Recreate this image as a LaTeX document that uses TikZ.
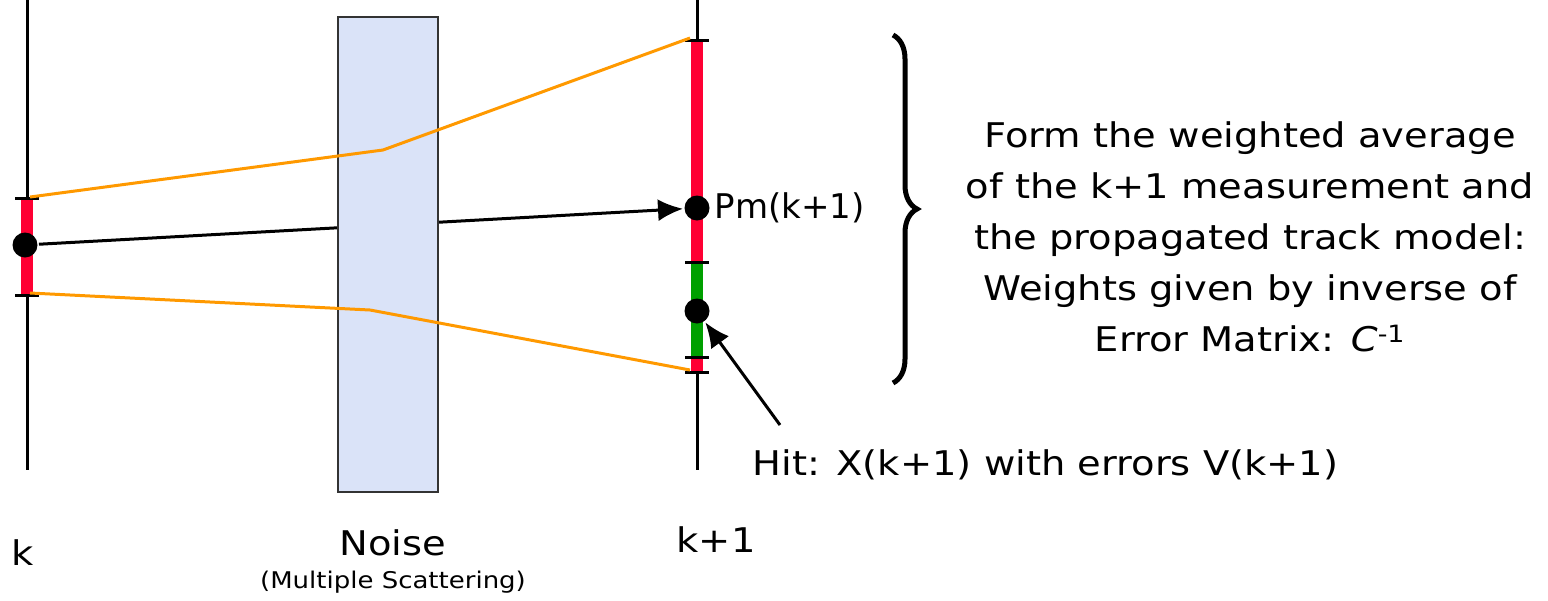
\documentclass[tikz,border=0pt]{standalone}
\usepackage{fontspec}
\setmainfont{DejaVu Sans}[FakeStretch=1.13]
\newfontfamily\pmfont{DejaVu Sans}
\usetikzlibrary{arrows.meta,decorations.pathreplacing}
\definecolor{barred}{HTML}{FF0033}
\definecolor{hitgreen}{HTML}{00A000}
\definecolor{trackorange}{HTML}{FF9900}
\definecolor{noisefill}{HTML}{DAE3F8}
\tikzset{
  dot/.style={circle,fill=black,inner sep=0pt,minimum size=25pt},
  lab/.style={font=\fontsize{34}{51}\selectfont},
  small/.style={font=\fontsize{23}{28}\selectfont},
}
\begin{document}
\begin{tikzpicture}[x=1pt,y=-1pt,>={Latex[length=25pt,width=22pt]},line width=3pt]
  \useasboundingbox (0,0) rectangle (1548,600);
  % detector planes
  \draw (27,0) -- (27,470);
  \draw (697,0) -- (697,470);
  % error bars
  \draw[barred,line width=12pt] (27,198) -- (27,295);
  \draw[barred,line width=12pt] (697,40) -- (697,372);
  \draw[hitgreen,line width=12pt] (697,262) -- (697,357);
  \foreach \x/\y in {27/198,27/295,697/40,697/262,697/357,697/372}
    \draw (\x-12,\y) -- (\x+12,\y);
  \node[dot] (pk) at (25,245) {};
  \node[dot] (pm) at (697,208) {};
  \node[dot] (hit) at (697,311) {};
  % propagated track
  \draw[->] (pk) -- (pm);
  \draw[draw=black!80,line width=2.2pt,fill=noisefill] (338,17) rectangle (438,492);
  \draw[trackorange] (30,197) -- (383,150) -- (690,38);
  \draw[trackorange] (30,293) -- (370,310) -- (690,370);
  % labels
  \node[lab,font=\fontsize{34}{51}\pmfont,anchor=west,inner sep=2pt] (pmlab) at (pm.east) {Pm(k+1)};
  \node[lab,anchor=west] (hitlab) at (748,465) {Hit: X(k+1) with errors V(k+1)};
  \coordinate (hitfrom) at (780,425);
  \draw[->] (hitfrom) -- (hit);
  \node[lab] (klab) at (23,553) {k};
  \node[lab] (k1lab) at (716,540) {k+1};
  \node[lab] (noise) at (393,543) {Noise};
  \node[small] (ms) at (393,582) {(Multiple Scattering)};
  \draw[decorate,decoration={brace,amplitude=24pt},line width=5pt] (893,35) -- (893,383);
  \node[lab,align=center] (expl) at (1250,237) {Form the weighted average\\of the k+1 measurement and\\the propagated track model:\\Weights given by inverse of\\Error Matrix: \textit{C}\textsuperscript{-1}};
\end{tikzpicture}
\end{document}
